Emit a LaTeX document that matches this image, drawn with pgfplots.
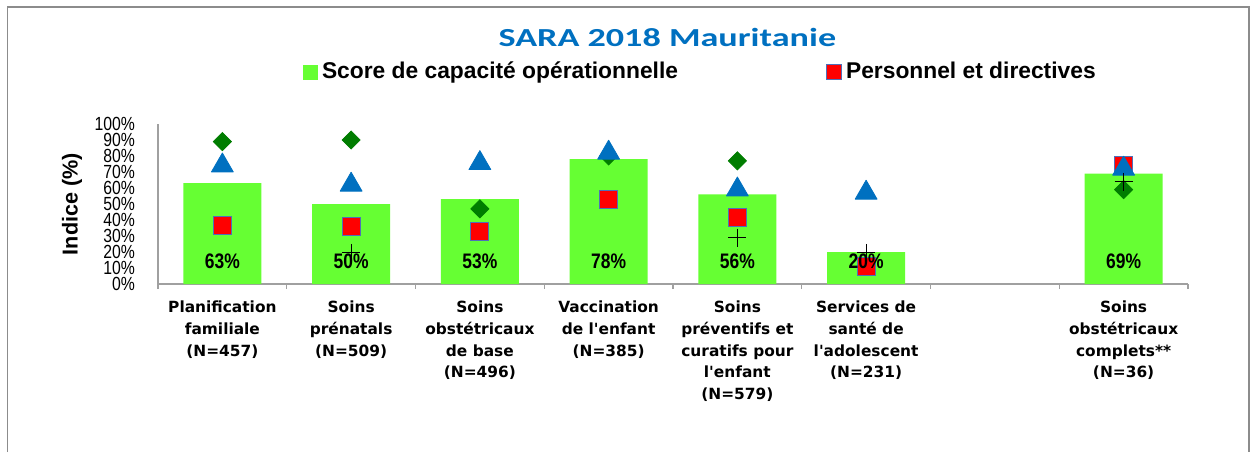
\documentclass[border=0pt]{standalone}
\usepackage{fontspec}
\setmainfont{Liberation Sans}
\newfontfamily\titlefont[FakeStretch=1.39]{Carlito}
\newfontfamily\catfont{DejaVu Sans}
\newfontfamily\narrowfont[FakeStretch=0.83]{Liberation Sans}
\usepackage{pgfplots}
\pgfplotsset{compat=1.18}

\definecolor{barg}{RGB}{102,255,51}
\definecolor{dgreen}{RGB}{0,125,0}
\definecolor{tblue}{RGB}{0,112,192}
\definecolor{sqborder}{RGB}{79,111,184}
\definecolor{axgray}{RGB}{160,160,160}
\definecolor{framegray}{RGB}{140,140,140}

\begin{document}
\begin{tikzpicture}
\path[use as bounding box] (0,0) rectangle (628pt,226pt);
\draw[framegray, line width=0.75pt] (3.75pt,0) -- (3.75pt,222.4pt) -- (624.6pt,222.4pt) -- (624.6pt,0);

\begin{axis}[
  at={(79pt,84pt)}, anchor=south west,
  scale only axis, width=515pt, height=80pt,
  xmin=-0.5, xmax=7.5, ymin=0, ymax=100,
  axis x line=bottom, axis y line=left,
  axis line style={-, draw=axgray, line width=0.6pt},
  xtick={-0.5,0.5,...,7.5}, x tick label as interval,
  xticklabels={
    {Planification\\familiale\\(N=457)},
    {Soins\\prénatals\\(N=509)},
    {Soins\\obstétricaux\\de base\\(N=496)},
    {Vaccination\\de l'enfant\\(N=385)},
    {Soins\\préventifs et\\curatifs pour\\l'enfant\\(N=579)},
    {Services de\\santé de\\l'adolescent\\(N=231)},
    {},
    {Soins\\obstétricaux\\complets**\\(N=36)}},
  xticklabel style={align=center, font=\catfont\bfseries\fontsize{7.7}{10.85}\selectfont, yshift=-2.5pt},
  tick align=outside, major tick length=2.5pt,
  xtick style={draw=axgray, line width=0.6pt},
  ytick={0,10,...,100}, ytick style={draw=none},
  yticklabel={\pgfmathprintnumber{\tick}\%},
  /pgf/number format/assume math mode=true,
  yticklabel style={font=\narrowfont\fontsize{9.5}{10}\selectfont, xshift=-5.5pt},
  ylabel={Indice (\%)},
  ylabel style={font=\bfseries\fontsize{10.8}{12}\selectfont, at={(axis description cs:-0.0835,0.5)}, anchor=center},
  title={SARA 2018 Mauritanie},
  title style={font=\titlefont\bfseries\fontsize{13}{15}\selectfont, text=tblue, at={(axis description cs:0.4945,1)}, anchor=base, yshift=33pt},
  legend columns=2,
  legend style={draw=none, fill=none, inner sep=0pt, outer sep=0pt,
    at={(axis description cs:0.1408,1.325)}, anchor=west,
    font=\bfseries\fontsize{11.4}{13}\selectfont,
    /tikz/every even column/.append style={column sep=72pt}},
  clip=false,
]
\addplot[ybar, bar width=39pt, fill=barg, draw=none,
  legend image code/.code={\fill[barg] (0pt,-3.75pt) rectangle (7.5pt,3.75pt);}]
  coordinates {(0,63) (1,50) (2,53) (3,78) (4,56) (5,20) (7,69)};
\addlegendentry{Score de capacité opérationnelle}
\addplot[only marks, mark=square*, mark size=4.5pt,
  mark options={fill=red, draw=sqborder, line width=0.5pt},
  legend image code/.code={\draw[fill=red, draw=sqborder, line width=0.5pt] (0pt,-3.75pt) rectangle (7.5pt,3.75pt);}]
  coordinates {(0,36.5) (1,36) (2,33) (3,53) (4,41.5) (5,11) (7,74)};
\addlegendentry{Personnel et directives}
\addplot[forget plot, only marks, mark=square*, mark size=3.2pt,
  mark options={rotate=45, fill=dgreen, draw=dgreen}]
  coordinates {(0,89) (1,90) (2,47) (3,80) (4,77) (7,59)};
\addplot[forget plot, only marks, mark=triangle*, mark size=6.3pt,
  mark options={fill=tblue, draw=tblue, line join=round}]
  coordinates {(0,74) (1,62) (2,75.5) (3,82) (4,59) (5,57) (7,72)};
\addplot[forget plot, only marks, mark=+, mark size=4.5pt,
  mark options={draw=black, line width=0.6pt}]
  coordinates {(1,19.5) (4,29) (5,19.5) (7,64)};
\addplot[forget plot, only marks, mark=none, point meta=explicit symbolic,
  nodes near coords, every node near coord/.append style={anchor=center,
    font=\narrowfont\bfseries\fontsize{10.5}{12}\selectfont, text=black}]
  coordinates {(0,14.4)[63\%] (1,14.4)[50\%] (2,14.4)[53\%] (3,14.4)[78\%]
    (4,14.4)[56\%] (5,14.4)[20\%] (7,14.4)[69\%]};
\end{axis}
\end{tikzpicture}
\end{document}
